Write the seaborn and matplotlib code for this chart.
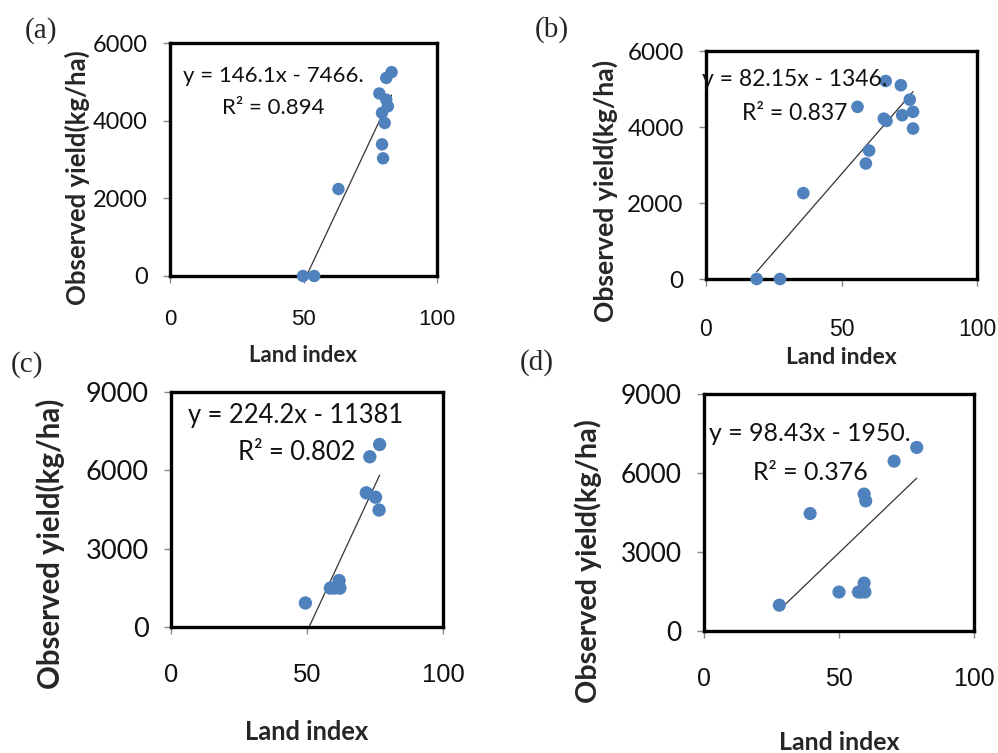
import matplotlib
matplotlib.use("Agg")
import matplotlib.pyplot as plt
import numpy as np
import pandas as pd
import seaborn as sns

# data
land_a = [49.8, 54.0, 63.1, 78.4, 81.0, 83.0, 81.0, 81.6, 79.4, 80.4, 79.4, 79.8]
yield_a = [0, 0, 2240, 4700, 5100, 5250, 4540, 4370, 4200, 3940, 3390, 3030]

land_b = [18.7, 27.3, 35.9, 55.9, 66.3, 71.9, 75.2, 76.4, 72.4, 65.6, 66.6, 76.4, 60.2, 59.0]
yield_b = [0, 0, 2260, 4530, 5210, 5100, 4720, 4400, 4310, 4220, 4160, 3960, 3380, 3040]

land_c = [49.4, 58.6, 61.8, 62.1, 60.2, 71.8, 75.2, 76.5, 73.1, 76.7]
yield_c = [920, 1490, 1780, 1490, 1490, 5140, 4970, 4480, 6520, 6990]

land_d = [27.9, 39.3, 50.0, 57.2, 59.3, 59.6, 58.0, 59.3, 59.9, 70.4, 78.8]
yield_d = [980, 4460, 1480, 1480, 1820, 1480, 1480, 5200, 4940, 6450, 6970]

slopes = [146.1, 82.15, 224.2, 98.43]
intercepts = [-7466, -1346, -11381, -1950]
equations = ["y = 146.1x - 7466.", "y = 82.15x - 1346.", "y = 224.2x - 11381", "y = 98.43x - 1950."]
r2_labels = ["R² = 0.894", "R² = 0.837", "R² = 0.802", "R² = 0.376"]
panel_tags = ["(a)", "(b)", "(c)", "(d)"]
y_maxes = [6000, 6000, 9000, 9000]
y_steps = [2000, 2000, 3000, 3000]

datasets = [(land_a, yield_a), (land_b, yield_b), (land_c, yield_c), (land_d, yield_d)]

sns.set_theme(style="white")
plt.rcParams["font.family"] = ["Lato", "DejaVu Sans"]

W, H = 998, 753
fig = plt.figure(figsize=(W / 100, H / 100), dpi=100)

# pixel layout: axes box (left, top, right, bottom) and text positions
boxes = [(170, 43, 437, 276), (706, 51, 977, 279), (171, 392, 443, 627), (704, 394, 974, 631)]
tag_pos = [(41, 31), (552, 30), (27, 365), (537, 363)]
eq_pos = [(273, 76), (795, 80), (296, 416), (810, 433)]
r2_pos = [(273, 108), (795, 113), (297, 453), (810, 472)]
ylab_pos = [(77, 178), (605, 191), (50, 544), (588, 561)]
xlab_pos = [(303, 355), (841, 358), (307, 732), (839, 743)]
xpad = [19, 23, 21, 21]
scale = [1.0, 1.03, 1.15, 1.12]


def fx(px):
    return px / W


def fy(py):
    return 1 - py / H


blue = "#4f81bd"

for i, (land, yld) in enumerate(datasets):
    k = scale[i]
    l, t, r, b = boxes[i]
    ax = fig.add_axes([fx(l), fy(b), fx(r) - fx(l), fy(t) - fy(b)])
    df = pd.DataFrame({"land": land, "yield": yld})
    sns.scatterplot(data=df, x="land", y="yield", ax=ax, color=blue, s=80 * k,
                    edgecolor="none", clip_on=False, zorder=3)

    xs = np.array([df["land"].min(), df["land"].max()])
    ax.plot(xs, slopes[i] * xs + intercepts[i], color="#333333", lw=0.9, zorder=2)

    ax.set_xlim(0, 100)
    ax.set_ylim(0, y_maxes[i])
    ax.set_xticks([0, 50, 100])
    ax.set_yticks(np.arange(0, y_maxes[i] + 1, y_steps[i]))
    ax.set_xlabel("")
    ax.set_ylabel("")
    for s in ax.spines.values():
        s.set_color("black")
        s.set_linewidth(2.4)
    ax.tick_params(axis="y", left=True, length=5, width=1, color="#888888",
                   pad=11, labelsize=17 * k, labelcolor="#111111")
    ax.tick_params(axis="x", bottom=True, length=5, width=1, color="#888888",
                   pad=xpad[i], labelsize=16 * k, labelcolor="#111111")
    for lab in ax.get_xticklabels():
        lab.set_fontfamily("Liberation Sans")

    fig.text(fx(eq_pos[i][0]), fy(eq_pos[i][1]), equations[i], ha="center", va="center",
             fontsize=16 * k, color="#111111")
    fig.text(fx(r2_pos[i][0]), fy(r2_pos[i][1]), r2_labels[i], ha="center", va="center",
             fontsize=16 * k, color="#111111")
    fig.text(fx(tag_pos[i][0]), fy(tag_pos[i][1]), panel_tags[i], ha="center", va="center",
             fontsize=21, family="Liberation Serif")
    fig.text(fx(ylab_pos[i][0]), fy(ylab_pos[i][1]), "Observed yield(kg/ha)", rotation=90,
             ha="center", va="center", fontsize=18.5 * k, fontweight="bold")
    fig.text(fx(xlab_pos[i][0]), fy(xlab_pos[i][1]), "Land index", ha="center", va="center",
             fontsize=16 * k, fontweight="bold")

fig.savefig("out.png", dpi=100, facecolor="white")
